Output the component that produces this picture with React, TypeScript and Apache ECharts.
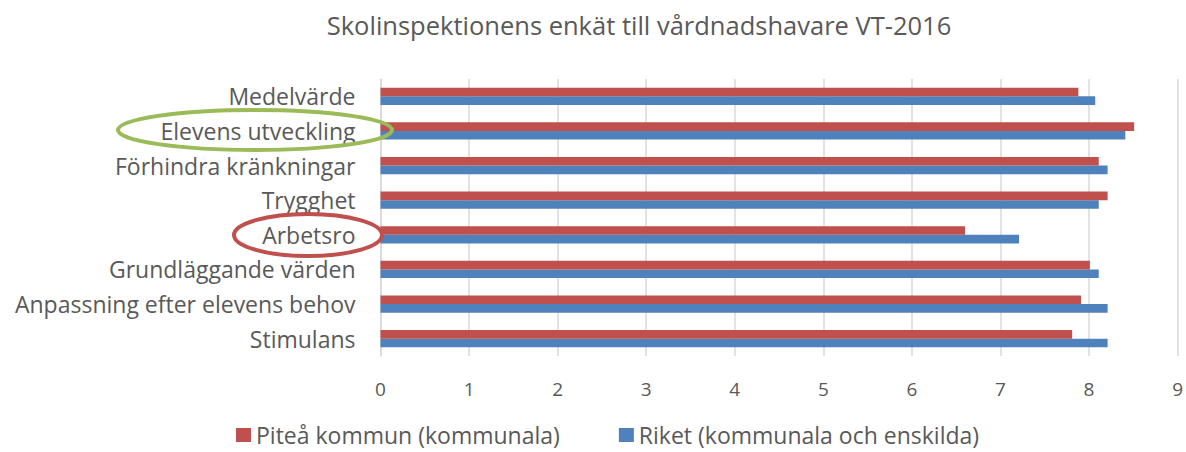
import React, { useEffect, useRef } from "react";
import * as echarts from "echarts";

const categories = [
  "Medelvärde",
  "Elevens utveckling",
  "Förhindra kränkningar",
  "Trygghet",
  "Arbetsro",
  "Grundläggande värden",
  "Anpassning efter elevens behov",
  "Stimulans",
];
const pitea = [7.88, 8.51, 8.11, 8.21, 6.6, 8.01, 7.91, 7.81];
const riket = [8.07, 8.41, 8.21, 8.11, 7.21, 8.11, 8.21, 8.21];
const seriesNames = ["Piteå kommun (kommunala)", "Riket (kommunala och enskilda)"];
const titleText = "Skolinspektionens enkät till vårdnadshavare VT-2016";

const FONT = "'Open Sans', 'DejaVu Sans', sans-serif";
const TEXT = "#595959";

export default function App() {
  const ref = useRef<HTMLDivElement>(null);
  useEffect(() => {
    if (!ref.current) return;
    const chart = echarts.init(ref.current, null, { renderer: "svg" });
    const cats = [...categories].reverse();
    const p = [...pitea].reverse();
    const r = [...riket].reverse();
    chart.setOption({
      animation: false,
      textStyle: { fontFamily: FONT },
      title: {
        text: titleText,
        left: 634,
        top: 7,
        textAlign: "center",
        textStyle: { color: TEXT, fontSize: 25.5, fontWeight: "normal", fontFamily: FONT },
      },
      legend: {
        data: seriesNames,
        left: 236,
        top: 421,
        padding: 0,
        icon: "rect",
        itemWidth: 15,
        itemHeight: 14,
        itemGap: 59,
        textStyle: { color: TEXT, fontSize: 23, fontFamily: FONT, lineHeight: 28 },
      },
      grid: { left: 380.5, right: 1, top: 79, height: 277, containLabel: false },
      xAxis: {
        type: "value",
        min: 0,
        max: 9,
        interval: 1,
        axisLine: { show: false },
        axisTick: { show: false },
        splitLine: { lineStyle: { color: "#d9d9d9", width: 1.5 } },
        axisLabel: { color: TEXT, fontSize: 19, margin: 23, fontFamily: FONT },
      },
      yAxis: {
        type: "category",
        data: cats,
        axisLine: { show: true, lineStyle: { color: "#d9d9d9", width: 1.5 } },
        axisTick: { show: false },
        axisLabel: { color: TEXT, fontSize: 23, margin: 25, fontFamily: FONT },
      },
      series: [
        {
          name: seriesNames[0],
          type: "bar",
          data: p,
          itemStyle: { color: "#c0504d" },
          barGap: "0%",
          barCategoryGap: "50%",
          z: 3,
        },
        {
          name: seriesNames[1],
          type: "bar",
          data: r,
          itemStyle: { color: "#4f81bd" },
          barGap: "0%",
          barCategoryGap: "50%",
          z: 2,
        },
      ],
      graphic: [
        {
          type: "ellipse",
          shape: { cx: 255, cy: 130, rx: 137, ry: 20 },
          style: { fill: "none", stroke: "#9bbb59", lineWidth: 4 },
          z: 100,
        },
        {
          type: "ellipse",
          shape: { cx: 308, cy: 235, rx: 74, ry: 21 },
          style: { fill: "none", stroke: "#c0504d", lineWidth: 4 },
          z: 100,
        },
      ],
    });
    return () => chart.dispose();
  }, []);
  return (
    <div
      ref={ref}
      style={{ position: "absolute", left: 0, top: 0, width: 1186, height: 452 }}
    />
  );
}
